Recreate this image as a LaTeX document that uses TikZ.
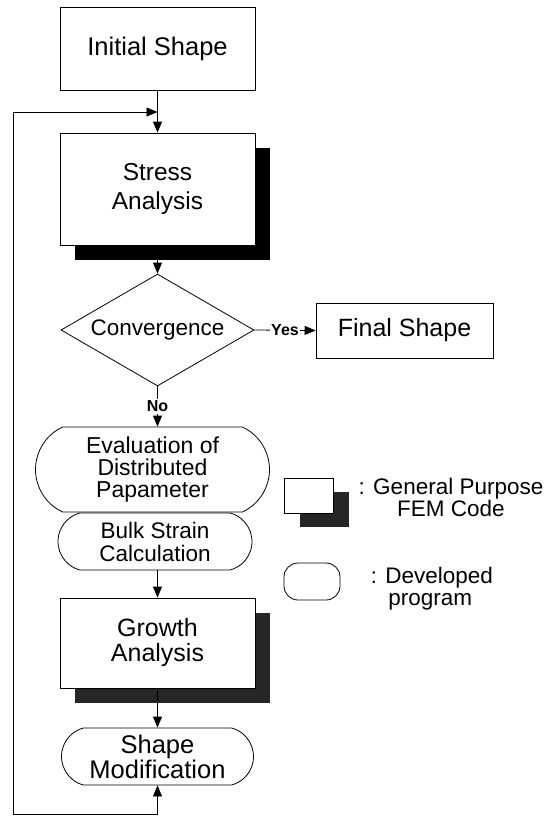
\documentclass[tikz,border=0pt]{standalone}
\usepackage{fontspec}
\setmainfont{Liberation Sans}
\usetikzlibrary{arrows.meta,shapes.geometric,shapes.misc,shadows}
\newcommand\myfs[2]{\fontsize{#1}{#2}\selectfont}
\begin{document}
\begin{tikzpicture}[x=1pt,y=-1pt,
  line width=0.8pt,
  arr/.style={-{Triangle[length=11pt,width=9pt]}},
  box/.style={draw, rectangle, inner sep=0pt, align=center, fill=white},
  shbox/.style={box, drop shadow={shadow xshift=15pt, shadow yshift=-15pt, fill=black, opacity=1}},
  gshbox/.style={box, drop shadow={shadow xshift=15pt, shadow yshift=-15pt, fill=black!85, opacity=1}},
  rrbox/.style={draw, rounded rectangle, rounded rectangle arc length=#1, inner sep=0pt, align=center, fill=white},
  lbl/.style={fill=white, inner sep=1.5pt, font={\bfseries\myfs{16}{16}}}
]
\useasboundingbox (0,0) rectangle (552,816);

\node[box, minimum width=195pt, minimum height=83pt, font={\myfs{25.5}{25}}] (init) at (157.5,48.5) {Initial Shape};
\node[shbox, minimum width=195pt, minimum height=112pt, font={\myfs{24.5}{29}}] (stress) at (157.5,189) {Stress\\Analysis};
\node[draw, diamond, aspect=1.72, minimum width=193pt, minimum height=112pt, inner sep=0pt, font={\myfs{22.5}{22}}] (conv) at (157.5,330) {Convergence};
\node[box, minimum width=177pt, minimum height=55pt, font={\myfs{25}{25}}] (final) at (404.5,330.5) {Final Shape};
\node[rrbox=150, minimum width=194pt, minimum height=57pt, font={\myfs{22.5}{23}}] (bulk) at (155,541.5) {Bulk Strain\\Calculation};
\node[rrbox=130, minimum width=234pt, minimum height=85pt, font={\myfs{23}{22}}] (eval) at (152.5,469.5) {Evaluation of\\Distributed\\Papameter};
\node[gshbox, minimum width=195pt, minimum height=90pt, font={\myfs{25}{25}}] (growth) at (157.5,643) {Growth\\Analysis};
\node[rrbox=150, minimum width=192pt, minimum height=57pt, font={\myfs{25.5}{25}}] (shapemod) at (157.5,756.5) {Shape\\Modification};

% legend
\node[box, minimum width=49pt, minimum height=35pt, drop shadow={shadow xshift=16pt, shadow yshift=-14pt, fill=black!85, opacity=1}] (lgbox) at (308.5,495.5) {};
\node[align=center, inner sep=0pt, font={\myfs{22.5}{20}}] (lgboxt) at (451,497) {: General Purpose\\FEM Code};
\node[draw, rectangle, rounded corners=14pt, minimum width=56pt, minimum height=37pt, inner sep=0pt] (lgrr) at (312,581.5) {};
\node[inner sep=0pt, font={\myfs{22}{22}}] (lgrrc) at (374,578) {:};
\node[anchor=west, align=left, inner sep=0pt, font={\myfs{22.5}{22}}] (lgrrt) at (385,589) {Developed\\\hspace{3pt}program};

% connectors
\draw[arr] (init) -- (stress);
\draw[arr] (stress.south) -- (conv.north);
\draw[arr] (conv.east) -- node[lbl] {Yes} (final.west);
\draw[arr] (conv.south) -- node[lbl] {No} (conv.south |- eval.north);
\draw[arr] (growth.north |- bulk.south) -- (growth.north);
\draw[arr] (growth.south) -- (shapemod.north);

\coordinate (fb0) at (157.5,814);
\coordinate (fbL) at (13,814);
\coordinate (fbT) at (13,112);
\coordinate (fbE) at (157.5,112);
\draw[arr] (fb0) -- (shapemod.south);
\draw[arr] (fb0) -- (fbL) -- (fbT) -- (fbE);
\end{tikzpicture}
\end{document}
